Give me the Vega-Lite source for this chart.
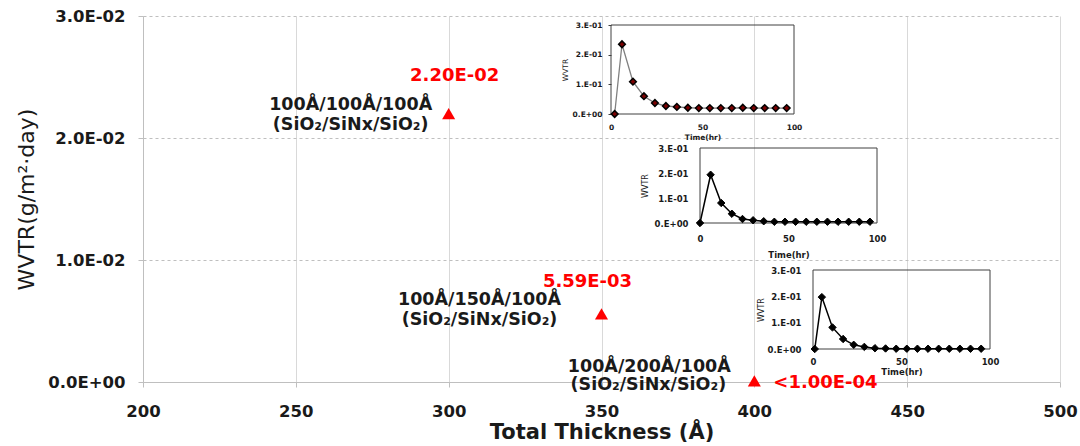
{
  "$schema": "https://vega.github.io/schema/vega-lite/v6.json",
  "width": 917,
  "height": 366,
  "autosize": {"type": "none"},
  "padding": {"left": 143, "top": 16, "right": 20, "bottom": 64},
  "background": "white",
  "config": {"view": {"stroke": null}, "font": "DejaVu Sans"},
  "datasets": {
    "points": [
      {"thickness": 300, "wvtr": 0.022, "value": "2.20E-02", "stack": "100Å/100Å/100Å", "material": "(SiO₂/SiNx/SiO₂)"},
      {"thickness": 350, "wvtr": 0.00559, "value": "5.59E-03", "stack": "100Å/150Å/100Å", "material": "(SiO₂/SiNx/SiO₂)"},
      {"thickness": 400, "wvtr": 0.0001, "value": "<1.00E-04", "stack": "100Å/200Å/100Å", "material": "(SiO₂/SiNx/SiO₂)"}
    ],
    "frame": [{"time": 0, "time2": 100, "wvtr": 0, "wvtr2": 0.3}],
    "inset": [
      {"panel": 1, "time": 2, "wvtr": 0},
      {"panel": 1, "time": 6, "wvtr": 0.235},
      {"panel": 1, "time": 12, "wvtr": 0.109},
      {"panel": 1, "time": 18, "wvtr": 0.06},
      {"panel": 1, "time": 24, "wvtr": 0.037},
      {"panel": 1, "time": 30, "wvtr": 0.027},
      {"panel": 1, "time": 36, "wvtr": 0.024},
      {"panel": 1, "time": 42, "wvtr": 0.021},
      {"panel": 1, "time": 48, "wvtr": 0.02},
      {"panel": 1, "time": 54, "wvtr": 0.02},
      {"panel": 1, "time": 60, "wvtr": 0.02},
      {"panel": 1, "time": 66, "wvtr": 0.02},
      {"panel": 1, "time": 72, "wvtr": 0.021},
      {"panel": 1, "time": 78, "wvtr": 0.02},
      {"panel": 1, "time": 84, "wvtr": 0.02},
      {"panel": 1, "time": 90, "wvtr": 0.02},
      {"panel": 1, "time": 96, "wvtr": 0.02},
      {"panel": 2, "time": 0, "wvtr": 0},
      {"panel": 2, "time": 6, "wvtr": 0.193},
      {"panel": 2, "time": 12, "wvtr": 0.08},
      {"panel": 2, "time": 18, "wvtr": 0.037},
      {"panel": 2, "time": 24, "wvtr": 0.016},
      {"panel": 2, "time": 30, "wvtr": 0.011},
      {"panel": 2, "time": 36, "wvtr": 0.007},
      {"panel": 2, "time": 42, "wvtr": 0.005},
      {"panel": 2, "time": 48, "wvtr": 0.005},
      {"panel": 2, "time": 54, "wvtr": 0.005},
      {"panel": 2, "time": 60, "wvtr": 0.005},
      {"panel": 2, "time": 66, "wvtr": 0.005},
      {"panel": 2, "time": 72, "wvtr": 0.005},
      {"panel": 2, "time": 78, "wvtr": 0.005},
      {"panel": 2, "time": 84, "wvtr": 0.005},
      {"panel": 2, "time": 90, "wvtr": 0.005},
      {"panel": 2, "time": 96, "wvtr": 0.005},
      {"panel": 3, "time": 1, "wvtr": 0},
      {"panel": 3, "time": 5, "wvtr": 0.197},
      {"panel": 3, "time": 11, "wvtr": 0.082},
      {"panel": 3, "time": 17, "wvtr": 0.038},
      {"panel": 3, "time": 23, "wvtr": 0.016},
      {"panel": 3, "time": 29, "wvtr": 0.008},
      {"panel": 3, "time": 35, "wvtr": 0.003},
      {"panel": 3, "time": 41, "wvtr": 0.002},
      {"panel": 3, "time": 47, "wvtr": 0.001},
      {"panel": 3, "time": 53, "wvtr": 0.001},
      {"panel": 3, "time": 59, "wvtr": 0.001},
      {"panel": 3, "time": 65, "wvtr": 0.001},
      {"panel": 3, "time": 71, "wvtr": 0.001},
      {"panel": 3, "time": 77, "wvtr": 0.001},
      {"panel": 3, "time": 83, "wvtr": 0.001},
      {"panel": 3, "time": 89, "wvtr": 0.001},
      {"panel": 3, "time": 95, "wvtr": 0.001}
    ]
  },
  "resolve": {"scale": {"x": "independent", "y": "independent"}, "axis": {"x": "independent", "y": "independent"}},
  "layer": [
    {
      "data": {"name": "points"},
      "encoding": {
        "x": {"field": "thickness", "type": "quantitative",
          "scale": {"domain": [200, 500], "nice": false, "zero": false},
          "axis": {"orient": "bottom", "title": "Total Thickness (Å)", "values": [200, 250, 300, 350, 400, 450, 500],
            "grid": true, "gridColor": "#d9d9d9", "gridWidth": 1, "domainColor": "#bfbfbf", "tickColor": "#bfbfbf", "tickSize": 5,
            "labelFont": "DejaVu Sans", "labelFontWeight": "bold", "labelFontSize": 16.5, "labelColor": "#1a1a1a", "labelPadding": 16, "labelFlush": false,
            "titleFont": "DejaVu Sans", "titleFontSize": 21, "titleFontWeight": "bold", "titleColor": "#1a1a1a", "titleY": 50, "titleBaseline": "middle"}},
        "y": {"field": "wvtr", "type": "quantitative",
          "scale": {"domain": [0, 0.03], "nice": false},
          "axis": {"orient": "left", "title": "WVTR(g/m²·day)", "values": [0, 0.01, 0.02, 0.03],
            "labelExpr": "replace(replace(format(datum.value, '.1e'), 'e-', 'E-0'), 'e+', 'E+0')",
            "grid": true, "gridColor": "#bfbfbf", "gridDash": [3, 3], "domainColor": "#bfbfbf", "tickColor": "#bfbfbf", "tickSize": 5,
            "labelFont": "DejaVu Sans", "labelFontWeight": "bold", "labelFontSize": 16.5, "labelColor": "#1a1a1a", "labelPadding": 13,
            "titleFont": "DejaVu Sans", "titleFontSize": 22, "titleFontWeight": "normal", "titleColor": "#1a1a1a", "titleX": -117, "titleBaseline": "middle"}}
      },
      "layer": [
        {"mark": {"type": "point", "shape": "triangle-up", "filled": true, "color": "#ff0000", "size": 170, "opacity": 1}},
        {"transform": [{"filter": "datum.thickness == 300"}], "mark": {"type": "text", "font": "DejaVu Sans", "fontWeight": "bold", "fontSize": 18, "color": "#ff0000", "align": "center", "baseline": "middle", "dx": 6, "dy": -38}, "encoding": {"text": {"field": "value", "type": "nominal"}}},
        {"transform": [{"filter": "datum.thickness == 300"}], "mark": {"type": "text", "font": "DejaVu Sans", "fontWeight": "bold", "fontSize": 17.5, "color": "#1a1a1a", "align": "center", "baseline": "middle", "dx": -98, "dy": -9}, "encoding": {"text": {"field": "stack", "type": "nominal"}}},
        {"transform": [{"filter": "datum.thickness == 300"}], "mark": {"type": "text", "font": "DejaVu Sans", "fontWeight": "bold", "fontSize": 17.5, "color": "#1a1a1a", "align": "center", "baseline": "middle", "dx": -98, "dy": 11}, "encoding": {"text": {"field": "material", "type": "nominal"}}},
        {"transform": [{"filter": "datum.thickness == 350"}], "mark": {"type": "text", "font": "DejaVu Sans", "fontWeight": "bold", "fontSize": 18, "color": "#ff0000", "align": "center", "baseline": "middle", "dx": -14, "dy": -32}, "encoding": {"text": {"field": "value", "type": "nominal"}}},
        {"transform": [{"filter": "datum.thickness == 350"}], "mark": {"type": "text", "font": "DejaVu Sans", "fontWeight": "bold", "fontSize": 17.5, "color": "#1a1a1a", "align": "center", "baseline": "middle", "dx": -122, "dy": -14}, "encoding": {"text": {"field": "stack", "type": "nominal"}}},
        {"transform": [{"filter": "datum.thickness == 350"}], "mark": {"type": "text", "font": "DejaVu Sans", "fontWeight": "bold", "fontSize": 17.5, "color": "#1a1a1a", "align": "center", "baseline": "middle", "dx": -122, "dy": 6}, "encoding": {"text": {"field": "material", "type": "nominal"}}},
        {"transform": [{"filter": "datum.thickness == 400"}], "mark": {"type": "text", "font": "DejaVu Sans", "fontWeight": "bold", "fontSize": 18, "color": "#ff0000", "align": "left", "baseline": "middle", "dx": 19, "dy": 2}, "encoding": {"text": {"field": "value", "type": "nominal"}}},
        {"transform": [{"filter": "datum.thickness == 400"}], "mark": {"type": "text", "font": "DejaVu Sans", "fontWeight": "bold", "fontSize": 17.5, "color": "#1a1a1a", "align": "center", "baseline": "middle", "dx": -105, "dy": -14}, "encoding": {"text": {"field": "stack", "type": "nominal"}}},
        {"transform": [{"filter": "datum.thickness == 400"}], "mark": {"type": "text", "font": "DejaVu Sans", "fontWeight": "bold", "fontSize": 17.5, "color": "#1a1a1a", "align": "center", "baseline": "middle", "dx": -106, "dy": 4}, "encoding": {"text": {"field": "material", "type": "nominal"}}}
      ]
    },
    {
      "encoding": {
        "x": {"field": "time", "type": "quantitative",
          "scale": {"domain": [0, 100], "range": [468, 651], "nice": false, "zero": false},
          "axis": {"orient": "bottom", "offset": -268, "values": [0, 50, 100], "title": "Time(hr)", "grid": false, "domain": false, "ticks": false,
            "labelFont": "DejaVu Sans", "labelFontWeight": "bold", "labelFontSize": 7.5, "labelColor": "#1a1a1a", "labelPadding": 9, "labelFlush": false,
            "titleFont": "DejaVu Sans", "titleFontSize": 7.5, "titleFontWeight": "bold", "titleColor": "#1a1a1a", "titleY": 19}},
        "y": {"field": "wvtr", "type": "quantitative",
          "scale": {"domain": [0, 0.3], "range": [98, 9], "nice": false},
          "axis": {"orient": "left", "offset": -468, "values": [0, 0.1, 0.2, 0.3], "title": "WVTR", "grid": false, "domain": false,
            "labelExpr": "datum.value == 0 ? '0.E+00' : replace(format(datum.value, '.0e'), 'e-', '.E-0')",
            "ticks": true, "tickSize": 3, "tickColor": "#404040",
            "labelFont": "DejaVu Sans", "labelFontWeight": "bold", "labelFontSize": 7.5, "labelColor": "#1a1a1a", "labelPadding": 6,
            "titleFont": "DejaVu Sans", "titleFontSize": 7.5, "titleFontWeight": "normal", "titleColor": "#1a1a1a", "titleX": -46, "titleBaseline": "middle"}}
      },
      "layer": [
        {"data": {"name": "frame"}, "mark": {"type": "rect", "fillOpacity": 0, "fill": "white", "stroke": "#404040", "strokeWidth": 1}, "encoding": {"x2": {"field": "time2"}, "y2": {"field": "wvtr2"}}},
        {"data": {"name": "inset"}, "transform": [{"filter": "datum.panel == 1"}], "mark": {"type": "line", "color": "#808080", "strokeWidth": 1.3}},
        {"data": {"name": "inset"}, "transform": [{"filter": "datum.panel == 1"}], "mark": {"type": "point", "shape": "diamond", "filled": true, "fill": "#7a0000", "stroke": "#000000", "strokeWidth": 1.5, "size": 45, "opacity": 1}}
      ]
    },
    {
      "encoding": {
        "x": {"field": "time", "type": "quantitative",
          "scale": {"domain": [0, 100], "range": [557, 734], "nice": false, "zero": false},
          "axis": {"orient": "bottom", "offset": -159, "values": [0, 50, 100], "title": "Time(hr)", "grid": false, "domain": false, "ticks": false,
            "labelFont": "DejaVu Sans", "labelFontWeight": "bold", "labelFontSize": 8.5, "labelColor": "#1a1a1a", "labelPadding": 11, "labelFlush": false,
            "titleFont": "DejaVu Sans", "titleFontSize": 8.5, "titleFontWeight": "bold", "titleColor": "#1a1a1a", "titleY": 27}},
        "y": {"field": "wvtr", "type": "quantitative",
          "scale": {"domain": [0, 0.3], "range": [207, 132], "nice": false},
          "axis": {"orient": "left", "offset": -557, "values": [0, 0.1, 0.2, 0.3], "title": "WVTR", "grid": false, "domain": false,
            "labelExpr": "datum.value == 0 ? '0.E+00' : replace(format(datum.value, '.0e'), 'e-', '.E-0')",
            "ticks": false,
            "labelFont": "DejaVu Sans", "labelFontWeight": "bold", "labelFontSize": 8.5, "labelColor": "#1a1a1a", "labelPadding": 12,
            "titleFont": "DejaVu Sans", "titleFontSize": 8, "titleFontWeight": "normal", "titleColor": "#1a1a1a", "titleX": -55, "titleBaseline": "middle"}}
      },
      "layer": [
        {"data": {"name": "frame"}, "mark": {"type": "rect", "fillOpacity": 0, "fill": "white", "stroke": "#404040", "strokeWidth": 1}, "encoding": {"x2": {"field": "time2"}, "y2": {"field": "wvtr2"}}},
        {"data": {"name": "inset"}, "transform": [{"filter": "datum.panel == 2"}], "mark": {"type": "line", "color": "#000000", "strokeWidth": 1.5}},
        {"data": {"name": "inset"}, "transform": [{"filter": "datum.panel == 2"}], "mark": {"type": "point", "shape": "diamond", "filled": true, "fill": "#000000", "stroke": "#000000", "strokeWidth": 1, "size": 55, "opacity": 1}}
      ]
    },
    {
      "encoding": {
        "x": {"field": "time", "type": "quantitative",
          "scale": {"domain": [0, 100], "range": [670, 847], "nice": false, "zero": false},
          "axis": {"orient": "bottom", "offset": -33, "values": [0, 50, 100], "title": "Time(hr)", "grid": false, "domain": false, "ticks": false,
            "labelFont": "DejaVu Sans", "labelFontWeight": "bold", "labelFontSize": 8.5, "labelColor": "#1a1a1a", "labelPadding": 8, "labelFlush": false,
            "titleFont": "DejaVu Sans", "titleFontSize": 8.5, "titleFontWeight": "bold", "titleColor": "#1a1a1a", "titleY": 18}},
        "y": {"field": "wvtr", "type": "quantitative",
          "scale": {"domain": [0, 0.3], "range": [333, 254], "nice": false},
          "axis": {"orient": "left", "offset": -670, "values": [0, 0.1, 0.2, 0.3], "title": "WVTR", "grid": false, "domain": false,
            "labelExpr": "datum.value == 0 ? '0.E+00' : replace(format(datum.value, '.0e'), 'e-', '.E-0')",
            "ticks": false,
            "labelFont": "DejaVu Sans", "labelFontWeight": "bold", "labelFontSize": 8.5, "labelColor": "#1a1a1a", "labelPadding": 12,
            "titleFont": "DejaVu Sans", "titleFontSize": 8, "titleFontWeight": "normal", "titleColor": "#1a1a1a", "titleX": -52, "titleBaseline": "middle"}}
      },
      "layer": [
        {"data": {"name": "frame"}, "mark": {"type": "rect", "fillOpacity": 0, "fill": "white", "stroke": "#404040", "strokeWidth": 1}, "encoding": {"x2": {"field": "time2"}, "y2": {"field": "wvtr2"}}},
        {"data": {"name": "inset"}, "transform": [{"filter": "datum.panel == 3"}], "mark": {"type": "line", "color": "#000000", "strokeWidth": 1.5}},
        {"data": {"name": "inset"}, "transform": [{"filter": "datum.panel == 3"}], "mark": {"type": "point", "shape": "diamond", "filled": true, "fill": "#000000", "stroke": "#000000", "strokeWidth": 1, "size": 55, "opacity": 1}}
      ]
    }
  ]
}
